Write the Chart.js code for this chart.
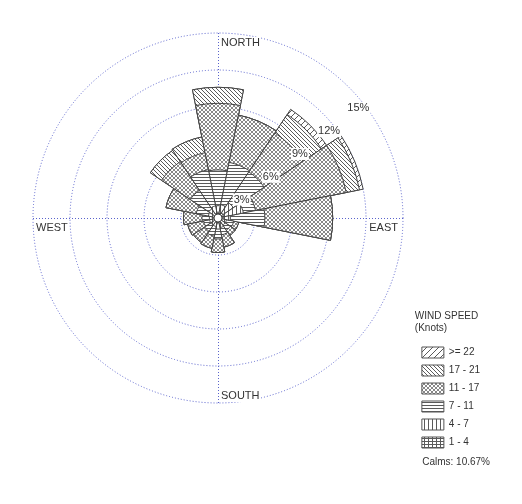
<!DOCTYPE html>
<html>
<head>
<meta charset="utf-8">
<title>Wind rose</title>
<script src="https://cdn.jsdelivr.net/npm/chart.js@4"></script>
<style>
  html, body { margin: 0; padding: 0; background: #fff; }
  #wrap { position: relative; width: 522px; height: 504px; }
</style>
</head>
<body>
<div id="wrap"><canvas id="rose"></canvas></div>
<script>
// 16 directions, clockwise from north
const directions = ['N', 'NNE', 'NE', 'ENE', 'E', 'ESE', 'SE', 'SSE', 'S', 'SSW', 'SW', 'WSW', 'W', 'WNW', 'NW', 'NNW'];

// frequency (%) of each speed class per direction
const freqGe22   = [0,   0,   0.5, 0.3, 0,   0,   0,   0,   0,   0,   0,   0,   0,   0,   0,   0];
const freq17to21 = [1.3, 0,   1.8, 1.1, 0,   0,   0,   0,   0,   0,   0,   0,   0,   0,   1.1, 1.3];
const freq11to17 = [5.4, 3.9, 3.8, 7.5, 5.5, 0.4, 0.5, 1.0, 1.1, 1.0, 1.1, 1.3, 1.5, 2.5, 2.8, 1.4];
const freq7to11  = [2.9, 3.5, 3.0, 1.0, 2.8, 0.6, 0.5, 0.6, 0.8, 0.8, 0.6, 0.5, 0.6, 1.0, 1.8, 3.0];
const freq4to7   = [0.6, 0.7, 1.0, 1.6, 0.6, 0.4, 0.4, 0.5, 0.5, 0.4, 0.4, 0.4, 0.4, 0.5, 0.6, 0.6];
const freq1to4   = [0.4, 0.4, 0.5, 0.5, 0.4, 0.3, 0.3, 0.3, 0.4, 0.3, 0.3, 0.3, 0.3, 0.3, 0.3, 0.4];

const speedClasses = ['>= 22', '17 - 21', '11 - 17', '7 - 11', '4 - 7', '1 - 4'];
const calms = 10.67;
const ringStep = 3;
const ringMax = 15;
const compass = ['NORTH', 'EAST', 'SOUTH', 'WEST'];

const FONT = '"Liberation Sans", Arial, sans-serif';
const gridColor = '#5a63cc';
Chart.defaults.font.family = FONT;

// hatch fills
function makePattern(kind) {
    const w = { ge22: 6, s17: 4, s11: 4, s7: 3, s4: 4, s1: 4 }[kind];
    const h = { ge22: 6, s17: 4, s11: 4, s7: 3, s4: 4, s1: 3 }[kind];
    const c = document.createElement('canvas');
    c.width = w; c.height = h;
    const g = c.getContext('2d');
    g.fillStyle = '#fff';
    g.fillRect(0, 0, w, h);
    g.strokeStyle = kind === 's11' ? '#6a6a6a' : '#5a5a5a';
    g.lineWidth = kind === 's11' ? 0.8 : 1;
    g.beginPath();
    if (kind === 'ge22' || kind === 's11') {
        g.moveTo(-1, h + 1); g.lineTo(w + 1, -1);
        g.moveTo(-1, 1); g.lineTo(1, -1);
        g.moveTo(w - 1, h + 1); g.lineTo(w + 1, h - 1);
    }
    if (kind === 's17' || kind === 's11') {
        g.moveTo(-1, -1); g.lineTo(w + 1, h + 1);
        g.moveTo(w - 1, -1); g.lineTo(w + 1, 1);
        g.moveTo(-1, h - 1); g.lineTo(1, h + 1);
    }
    if (kind === 's7' || kind === 's1') {
        g.moveTo(0, 0.5); g.lineTo(w, 0.5);
    }
    if (kind === 's4' || kind === 's1') {
        g.moveTo(0.5, 0); g.lineTo(0.5, h);
    }
    g.stroke();
    return g.createPattern(c, 'repeat');
}

const ctx = document.getElementById('rose').getContext('2d');
const fills = {
    '>= 22': makePattern('ge22'),
    '17 - 21': makePattern('s17'),
    '11 - 17': makePattern('s11'),
    '7 - 11': makePattern('s7'),
    '4 - 7': makePattern('s4'),
    '1 - 4': makePattern('s1')
};

// stack from the centre outwards: first dataset is drawn on top
const bins = [freq1to4, freq4to7, freq7to11, freq11to17, freq17to21, freqGe22];
const binNames = speedClasses.slice().reverse();
let running = directions.map(() => 0);
const datasets = bins.map((bin, k) => {
    running = running.map((v, i) => +(v + bin[i]).toFixed(2));
    return {
        label: binNames[k],
        data: running.slice(),
        backgroundColor: fills[binNames[k]],
        borderColor: '#444',
        borderWidth: 1
    };
});

// axes, compass names, ring labels
const roseDecor = {
    id: 'roseDecor',
    beforeDatasetsDraw(chart) {
        const s = chart.scales.r;
        const c = chart.ctx;
        const cx = s.xCenter, cy = s.yCenter, R = s.drawingArea;
        c.save();
        c.strokeStyle = gridColor;
        c.lineWidth = 1;
        c.setLineDash([1, 2]);
        c.beginPath();
        c.moveTo(cx - R, cy + 0.5); c.lineTo(cx + R, cy + 0.5);
        c.moveTo(cx + 0.5, cy - R); c.lineTo(cx + 0.5, cy + R);
        c.stroke();
        c.restore();
    },
    afterDatasetsDraw(chart) {
        const s = chart.scales.r;
        const c = chart.ctx;
        const cx = s.xCenter, cy = s.yCenter, R = s.drawingArea;
        c.save();
        // calm circle
        c.beginPath();
        c.arc(cx, cy, 4, 0, Math.PI * 2);
        c.fillStyle = '#fff';
        c.fill();
        c.strokeStyle = '#444';
        c.lineWidth = 1;
        c.stroke();

        c.font = '11px ' + FONT;
        c.textBaseline = 'middle';
        // ring labels
        c.textAlign = 'center';
        const a = 52 * Math.PI / 180;
        s.ticks.forEach(t => {
            if (t.value <= 0) return;
            const label = t.label || (t.value + '%');
            const d = s.getDistanceFromCenterForValue(t.value) - 7;
            const x = cx + d * Math.sin(a), y = cy - d * Math.cos(a);
            const w = c.measureText(label).width;
            c.fillStyle = '#fff';
            c.fillRect(x - w / 2 - 1, y - 6, w + 2, 12);
            c.fillStyle = '#333';
            c.fillText(label, x, y);
        });
        // compass names
        const spots = [
            { x: cx + 3, y: cy - R + 10, align: 'left' },
            { x: cx + R - 5, y: cy + 10, align: 'right' },
            { x: cx + 3, y: cy + R - 7, align: 'left' },
            { x: cx - R + 3, y: cy + 10, align: 'left' }
        ];
        compass.forEach((name, i) => {
            const p = spots[i];
            const w = c.measureText(name).width;
            const left = p.align === 'left' ? p.x : p.x - w;
            c.fillStyle = '#fff';
            c.fillRect(left - 1, p.y - 6, w + 2, 12);
            c.fillStyle = '#333';
            c.textAlign = p.align;
            c.fillText(name, p.x, p.y);
        });
        c.restore();
    }
};

const chart = new Chart(ctx, {
    type: 'polarArea',
    data: { labels: directions, datasets: datasets },
    options: {
        responsive: true,
        maintainAspectRatio: false,
        animation: false,
        layout: { padding: { top: 10, right: 32, bottom: 26, left: 0 } },
        scales: {
            r: {
                min: 0,
                max: ringMax,
                startAngle: -360 / directions.length / 2,
                ticks: { stepSize: ringStep, display: false, callback: v => v + '%' },
                grid: { color: gridColor, lineWidth: 1, circular: true },
                border: { dash: [1, 2] },
                angleLines: { display: false },
                pointLabels: { display: false },
                afterFit: sc => {
                    sc.xCenter = 218;
                    sc.yCenter = 218;
                    sc.drawingArea = 185;
                }
            }
        },
        plugins: {
            legend: {
                position: 'right',
                align: 'end',
                fullSize: false,
                title: {
                    display: true,
                    text: ['WIND SPEED', '(Knots)'],
                    position: 'start',
                    color: '#333',
                    font: { size: 10 },
                    padding: { top: 0, bottom: 17 }
                },
                labels: {
                    boxWidth: 22,
                    boxHeight: 11,
                    padding: 7,
                    color: '#333',
                    font: { size: 10 },
                    generateLabels: ch => ch.data.datasets.map((ds, i) => ({
                        text: ds.label,
                        fillStyle: ds.backgroundColor,
                        strokeStyle: '#555',
                        lineWidth: 1,
                        hidden: false,
                        datasetIndex: i
                    })).reverse()
                }
            },
            subtitle: {
                display: true,
                text: 'Calms: ' + calms.toFixed(2) + '%',
                position: 'bottom',
                align: 'end',
                fullSize: true,
                color: '#333',
                font: { size: 10 },
                padding: { top: 1, bottom: 10 }
            },
            tooltip: { enabled: false }
        }
    },
    plugins: [roseDecor]
});
</script>
</body>
</html>
